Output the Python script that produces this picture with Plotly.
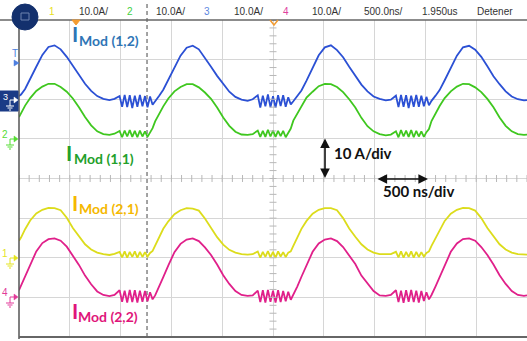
import plotly.graph_objects as go
import numpy as np

# ---------------- data ----------------
# time axis in ns (500 ns/div, 10 divisions)
t_ns = [
    0, 20, 60, 110, 170, 230, 290, 350, 410, 470, 530, 590, 650, 710, 770, 830, 890, 940,
    990, 1015, 1040, 1065, 1090, 1115, 1140, 1165, 1190, 1215, 1240, 1265, 1290, 1315,
    1340, 1380, 1420, 1470, 1530, 1590, 1650, 1710, 1770, 1830, 1890, 1950, 2010, 2070, 2130, 2190, 2250, 2300,
    2350, 2375, 2400, 2425, 2450, 2475, 2500, 2525, 2550, 2575, 2600, 2625, 2650, 2675,
    2700, 2740, 2780, 2830, 2890, 2950, 3010, 3070, 3130, 3190, 3250, 3310, 3370, 3430, 3490, 3550, 3610, 3660,
    3710, 3735, 3760, 3785, 3810, 3835, 3860, 3885, 3910, 3935, 3960, 3985, 4010, 4035,
    4060, 4100, 4140, 4190, 4250, 4310, 4370, 4430, 4490, 4550, 4610, 4670, 4730, 4790, 4850, 4910, 4970, 5000,
]

# currents in A (channel 3, blue) I_Mod(1,2)
i_mod_12 = [
    0.8, 1.2, 2.6, 5.0, 8.2, 11.2, 13.2, 13.6, 12.6, 10.7, 8.4, 6.0, 3.9, 2.1, 0.8, 0.1, -0.2, 0.1,
    0.8, -1.9, 1.1, -2.0, 1.0, -2.2, 0.9, -1.9, 1.1, -1.8, 0.8, -2.0, 0.7, -1.4,
    -0.4, 0.9, 2.4, 4.9, 8.1, 11.0, 13.0, 13.5, 12.6, 10.5, 8.2, 5.9, 3.9, 1.9, 0.6, -0.1, -0.4, 0.0,
    1.0, -2.1, 0.9, -1.8, 1.2, -2.0, 0.8, -2.1, 1.0, -1.7, 1.0, -1.9, 0.5, -1.3,
    -0.5, 0.8, 2.2, 4.7, 7.9, 11.1, 13.1, 13.6, 12.4, 10.6, 8.2, 6.0, 3.7, 2.0, 0.7, 0.1, -0.3, -0.1,
    0.9, -2.0, 1.1, -1.9, 1.0, -2.2, 0.9, -1.9, 1.1, -1.9, 0.9, -1.8, 0.6, -1.5,
    -0.4, 0.9, 2.3, 4.8, 8.0, 11.0, 13.1, 13.5, 12.5, 10.7, 8.3, 5.8, 3.8, 2.0, 0.7, 0.0, -0.3, -0.2,
]
# channel 2, green, I_Mod(1,1)
i_mod_11 = [
    5.5, 6.6, 8.4, 10.3, 12.1, 13.2, 13.9, 13.9, 13.1, 11.9, 10.2, 8.0, 5.5, 3.4, 1.9, 1.2, 1.0, 1.3,
    2.0, 0.4, 2.1, 0.6, 2.2, 0.5, 2.0, 0.4, 2.1, 0.6, 1.9, 0.5, 1.7, 2.7,
    4.4, 6.5, 8.2, 10.2, 12.0, 13.1, 13.8, 13.8, 13.0, 11.7, 10.1, 7.9, 5.4, 3.3, 1.8, 1.1, 1.0, 1.2,
    2.1, 0.5, 2.0, 0.5, 2.3, 0.6, 2.1, 0.5, 2.0, 0.7, 2.0, 0.4, 1.6, 2.6,
    4.6, 6.4, 8.3, 10.4, 11.9, 13.3, 13.9, 13.8, 13.1, 11.8, 10.0, 7.9, 5.3, 3.2, 1.9, 1.2, 0.9, 1.1,
    1.9, 0.4, 2.2, 0.6, 2.1, 0.5, 2.2, 0.4, 2.0, 0.6, 1.9, 0.5, 1.7, 2.5,
    4.5, 6.5, 8.3, 10.3, 12.0, 13.2, 13.9, 13.8, 13.0, 11.8, 10.1, 8.0, 5.4, 3.3, 1.9, 1.2, 1.0, 1.1,
]
# channel 1, yellow, I_Mod(2,1)
i_mod_21 = [
    4.3, 5.1, 7.2, 9.4, 11.2, 12.1, 12.6, 12.5, 12.0, 10.1, 7.5, 5.3, 3.4, 2.1, 1.3, 0.9, 0.7, 1.0,
    1.5, 0.1, 1.6, 0.0, 1.5, 0.2, 1.6, 0.0, 1.5, 0.2, 1.4, 0.3, 1.2, 1.7,
    3.1, 5.0, 7.3, 9.2, 11.0, 12.0, 12.5, 12.4, 11.9, 9.9, 7.4, 5.2, 3.3, 2.0, 1.3, 0.9, 0.8, 0.9,
    1.6, 0.0, 1.5, 0.2, 1.7, 0.1, 1.5, 0.0, 1.6, 0.3, 1.4, 0.2, 1.3, 1.6,
    3.0, 5.0, 7.3, 9.3, 11.1, 12.1, 12.5, 12.5, 12.0, 10.0, 7.4, 5.3, 3.4, 2.1, 1.3, 0.9, 0.8, 0.9,
    1.5, 0.1, 1.6, 0.0, 1.5, 0.2, 1.6, 0.0, 1.5, 0.2, 1.4, 0.3, 1.2, 1.6,
    3.0, 5.0, 7.2, 9.3, 11.1, 12.1, 12.6, 12.5, 11.9, 10.0, 7.5, 5.3, 3.4, 2.1, 1.3, 0.9, 0.8, 0.8,
]
# channel 4, magenta, I_Mod(2,2)
i_mod_22 = [
    1.8, 2.9, 5.3, 8.3, 11.6, 13.7, 14.7, 14.9, 14.3, 12.8, 10.6, 8.2, 5.5, 3.3, 1.5, 0.6, 0.3, 0.6,
    1.8, -1.1, 1.7, -1.3, 1.9, -1.2, 1.8, -1.3, 1.7, -1.1, 1.6, -1.0, 1.3, -0.5,
    0.5, 2.7, 5.1, 8.1, 11.4, 13.5, 14.6, 14.9, 14.2, 12.6, 10.7, 8.3, 5.6, 3.4, 1.6, 0.6, 0.4, 0.5,
    1.7, -1.2, 1.8, -1.3, 1.9, -1.1, 1.7, -1.3, 1.8, -1.2, 1.6, -1.0, 1.4, -0.6,
    0.6, 2.8, 5.2, 8.2, 11.5, 13.6, 14.6, 14.9, 14.2, 12.7, 10.6, 8.4, 5.5, 3.5, 1.6, 0.5, 0.4, 0.6,
    1.8, -1.2, 1.7, -1.4, 1.8, -1.1, 1.9, -1.2, 1.7, -1.3, 1.6, -0.9, 1.3, -0.5,
    0.6, 2.8, 5.2, 8.2, 11.5, 13.6, 14.7, 14.9, 14.3, 12.7, 10.7, 8.3, 5.6, 3.4, 1.6, 0.6, 0.4, 0.5,
]

channel_ids = ["3", "2", "1", "4"]
channel_offset_A = [20, 10, -20, -30]       # ground position (10 A/div)
channel_colors = ["#2b50d4", "#3fc71f", "#dcdc1c", "#e0208a"]
header_labels = ["1", "10.0A/", "2", "10.0A/", "3", "10.0A/", "4", "10.0A/", "500.0ns/", "1.950us", "Detener"]
trigger_ns = 1260

for s in (i_mod_12, i_mod_11, i_mod_21, i_mod_22):
    assert len(s) == len(t_ns)

# ---------------- geometry helpers (pixel -> paper) ----------------
W, H = 527, 341
ML, MT, MR, MB = 19, 20, 0, 4
PW, PH = W - ML - MR, H - MT - MB


def PX(x):
    return (x - ML) / PW


def PY(y):
    return (H - MB - y) / PH


fig = go.Figure()

series = [i_mod_12, i_mod_11, i_mod_21, i_mod_22]
for vals, off, col in zip(series, channel_offset_A, channel_colors):
    fig.add_trace(go.Scatter(
        x=t_ns, y=[v + off for v in vals], mode="lines",
        line=dict(color=col, width=1.8), hoverinfo="skip", showlegend=False))

# center axes minor ticks (scope graticule)
tick_x = np.arange(0, 5001, 100)
fig.add_trace(go.Scatter(x=tick_x, y=np.zeros(len(tick_x)), mode="markers",
                         marker=dict(symbol="line-ns", size=5, line=dict(color="#b8b8b8", width=1)),
                         hoverinfo="skip", showlegend=False))
tick_y = np.arange(-40, 41, 2)
fig.add_trace(go.Scatter(x=np.full(len(tick_y), 2500), y=tick_y, mode="markers",
                         marker=dict(symbol="line-ew", size=5, line=dict(color="#b8b8b8", width=1)),
                         hoverinfo="skip", showlegend=False))

shapes = []
# trigger dashed line
shapes.append(dict(type="line", xref="x", yref="paper", x0=trigger_ns, x1=trigger_ns, y0=0, y1=PY(3),
                   line=dict(color="#666666", width=1.2, dash="4px,3px"), layer="below"))
# frame
shapes.append(dict(type="line", xref="paper", yref="paper", x0=0, x1=0, y0=PY(339), y1=1,
                   line=dict(color="#555555", width=1.5)))
shapes.append(dict(type="line", xref="paper", yref="paper", x0=PX(0), x1=1, y0=1, y1=1,
                   line=dict(color="#666666", width=1.5)))
shapes.append(dict(type="line", xref="paper", yref="paper", x0=0, x1=1, y0=0, y1=0,
                   line=dict(color="#666666", width=2)))
# navy circle button
shapes.append(dict(type="circle", xref="paper", yref="paper", x0=PX(12), x1=PX(38), y0=PY(30), y1=PY(4),
                   fillcolor="#13306d", line=dict(color="#13306d", width=1)))
shapes.append(dict(type="rect", xref="paper", yref="paper", x0=PX(21), x1=PX(29), y0=PY(20), y1=PY(13),
                   fillcolor="rgba(0,0,0,0)", line=dict(color="#6f83b0", width=1)))
# orange trigger markers
shapes.append(dict(type="path", xref="paper", yref="paper",
                   path=f"M {PX(72)},{PY(20)} L {PX(80)},{PY(20)} L {PX(76)},{PY(25)} Z",
                   fillcolor="#f39c32", line=dict(color="#f39c32", width=1)))
shapes.append(dict(type="path", xref="paper", yref="paper",
                   path=f"M {PX(270)},{PY(20)} L {PX(274)},{PY(25)} L {PX(278)},{PY(20)}",
                   line=dict(color="#f39c32", width=1.5)))
# blue channel-3 box
shapes.append(dict(type="rect", xref="paper", yref="paper", x0=PX(0), x1=PX(18), y0=PY(111), y1=PY(91),
                   fillcolor="#1b3b86", line=dict(color="#1b3b86", width=1)))


def ground(x, y, color):
    out = [((x, y), (x, y + 3)), ((x - 4, y + 3), (x + 4, y + 3)),
           ((x - 2.5, y + 5), (x + 2.5, y + 5)), ((x - 1, y + 7), (x + 1, y + 7))]
    for (a, b) in out:
        shapes.append(dict(type="line", xref="paper", yref="paper", x0=PX(a[0]), y0=PY(a[1]),
                           x1=PX(b[0]), y1=PY(b[1]), line=dict(color=color, width=1)))


def chan_marker(yc, color):
    shapes.append(dict(type="line", xref="paper", yref="paper", x0=PX(10), y0=PY(yc), x1=PX(14), y1=PY(yc),
                       line=dict(color=color, width=1)))
    shapes.append(dict(type="line", xref="paper", yref="paper", x0=PX(10), y0=PY(yc), x1=PX(10), y1=PY(yc + 3),
                       line=dict(color=color, width=1)))
    shapes.append(dict(type="path", xref="paper", yref="paper",
                       path=f"M {PX(14)},{PY(yc - 3)} L {PX(18)},{PY(yc)} L {PX(14)},{PY(yc + 3)} Z",
                       fillcolor=color, line=dict(color=color, width=0.5)))
    ground(10, yc + 3, color)


chan_marker(100, "#ffffff")
chan_marker(139, "#55dd33")
chan_marker(258, "#e4e41e")
chan_marker(297, "#e23a9a")
# T marker
shapes.append(dict(type="path", xref="paper", yref="paper",
                   path=f"M {PX(14)},{PY(60)} L {PX(19)},{PY(63)} L {PX(14)},{PY(66)} Z",
                   fillcolor="#4d7fe0", line=dict(color="#4d7fe0", width=0.5)))

ann = []


def text(x, y, s, color, size, family="Liberation Sans", xanchor="left", bold=False):
    ann.append(dict(x=PX(x), y=PY(y), xref="paper", yref="paper", text=(f"<b>{s}</b>" if bold else s),
                    showarrow=False, xanchor=xanchor, yanchor="middle",
                    font=dict(color=color, size=size, family=family)))


# header
hdr_x = [52, 77, 130, 154, 207, 232, 286, 310, 362, 420, 475]
hdr_c = ["#e8e020", "#333333", "#3fd03f", "#333333", "#5a86e0", "#333333", "#e0409e", "#333333",
         "#333333", "#333333", "#333333"]
hdr_anchor = ["center", "left", "center", "left", "center", "left", "center", "left", "left", "left", "left"]
for lab, x, c, a in zip(header_labels, hdr_x, hdr_c, hdr_anchor):
    text(x, 12, lab, c, 10, xanchor=a)

# channel digits on the left
text(5, 97, "3", "#ffffff", 9, xanchor="center")
text(5, 134, "2", "#55dd33", 10, xanchor="center")
text(5, 253, "1", "#e4e41e", 10, xanchor="center")
text(5, 292, "4", "#e23a9a", 10, xanchor="center")
text(15, 53, "T", "#4d7fe0", 10, xanchor="center")

# waveform labels
lab_font = "Lato"
labels = [("(1,2)", "#2e75b6", 70, 34, 77, 40),
          ("(1,1)", "#22a02a", 64, 152, 72, 158),
          ("(2,1)", "#f5b800", 70, 202, 77, 208),
          ("(2,2)", "#e0157a", 70, 310, 76, 316)]
for idx, col, xi, yi, xm, ym in labels:
    text(xi, yi, "I", col, 21, family=lab_font, bold=True)
    text(xm, ym, f"Mod {idx}", col, 14, family=lab_font, bold=True)

# scale indicators
text(332, 153, "10 A/div", "#111111", 15, family=lab_font, bold=True)
text(381, 191, "500 ns/div", "#111111", 15, family=lab_font, bold=True)
ann.append(dict(x=PX(325), y=PY(178), xref="paper", yref="paper", ax=0, ay=-41, axref="pixel", ayref="pixel",
                text="", showarrow=True, arrowhead=2, arrowside="end+start", arrowsize=1.2,
                arrowwidth=1.6, arrowcolor="#111111"))
ann.append(dict(x=PX(428), y=PY(179), xref="paper", yref="paper", ax=-52, ay=0, axref="pixel", ayref="pixel",
                text="", showarrow=True, arrowhead=2, arrowside="end+start", arrowsize=1.2,
                arrowwidth=1.6, arrowcolor="#111111"))

fig.update_layout(
    width=W, height=H, margin=dict(l=ML, r=MR, t=MT, b=MB),
    paper_bgcolor="white", plot_bgcolor="white",
    xaxis=dict(range=[0, 5000], dtick=500, tick0=0, showgrid=True, gridcolor="#d6d6d6", gridwidth=1,
               zeroline=False, showticklabels=False, ticks="", fixedrange=True),
    yaxis=dict(range=[-40, 40], dtick=10, tick0=0, showgrid=True, gridcolor="#d6d6d6", gridwidth=1,
               zeroline=False, showticklabels=False, ticks="", fixedrange=True),
    shapes=shapes, annotations=ann, showlegend=False,
)

fig.write_html("out.html", config={"displayModeBar": False})
